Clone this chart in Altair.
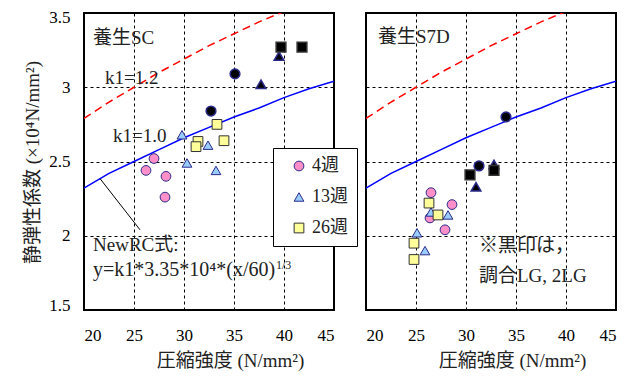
import altair as alt
import pandas as pd

FONT = "'Liberation Serif', 'Noto Sans CJK JP', serif"

weeks = ["4週", "13週", "26週"]
shapes = ["circle", "triangle-up", "square"]
fill_colors = ["#FF8FC8", "#99CCFF", "#FFFF99"]
edge_colors = ["#2A2A8A", "#2A2A8A", "#333333"]
black_edge_colors = ["#FF8FC8", "#66E0FF", "#FFFF66"]

# ---- 養生SC (left panel) ----
sc_4w_x = [27.0, 26.2, 28.2, 28.1]
sc_4w_y = [2.52, 2.44, 2.40, 2.26]
sc_4w_black_x = [35.1, 32.7]
sc_4w_black_y = [3.09, 2.84]
sc_13w_x = [29.8, 32.4, 30.3, 33.2]
sc_13w_y = [2.68, 2.61, 2.49, 2.44]
sc_13w_black_x = [37.7, 39.5]
sc_13w_black_y = [3.02, 3.21]
sc_26w_x = [33.3, 34.0, 31.4, 31.2]
sc_26w_y = [2.75, 2.64, 2.635, 2.60]
sc_26w_black_x = [39.7, 41.8]
sc_26w_black_y = [3.27, 3.27]

# ---- 養生S7D (right panel) ----
s7d_4w_x = [26.5, 28.6, 26.4, 27.9]
s7d_4w_y = [2.29, 2.21, 2.12, 2.04]
s7d_4w_black_x = [34.0, 31.3]
s7d_4w_black_y = [2.80, 2.47]
s7d_13w_x = [26.5, 28.2, 25.1, 25.9]
s7d_13w_y = [2.16, 2.14, 2.02, 1.90]
s7d_13w_black_x = [31.0, 32.8]
s7d_13w_black_y = [2.33, 2.48]
s7d_26w_x = [26.3, 27.2, 24.8, 24.8]
s7d_26w_y = [2.22, 2.14, 1.95, 1.84]
s7d_26w_black_x = [30.4, 32.8]
s7d_26w_black_y = [2.41, 2.44]

# ---- NewRC curves (k1=1.0 and k1=1.2) ----
curve_x = [20, 22.5, 25, 27.5, 30, 32.5, 35, 37.5, 40, 42.5, 45]
k10_y = [2.32, 2.42, 2.50, 2.58, 2.66, 2.73, 2.80, 2.86, 2.93, 2.99, 3.04]
k12_y = [2.79, 2.90, 3.00, 3.10, 3.19, 3.28, 3.36, 3.44, 3.51, 3.59, 3.65]

# leader line from the curve to the formula label
leader_x = [21.6, 25.6]
leader_y = [2.385, 2.04]

x_ticks = [20, 25, 30, 35, 40, 45]
y_ticks = [1.5, 2.0, 2.5, 3.0, 3.5]


def points_df(groups):
    rows = []
    for week, (xs_, ys_, bxs, bys) in zip(weeks, groups):
        for a, b in zip(xs_, ys_):
            rows.append({"week": week, "wk": week, "x": a, "y": b, "black": False})
        for a, b in zip(bxs, bys):
            rows.append({"week": week, "wk": week, "x": a, "y": b, "black": True})
    return pd.DataFrame(rows)


sc_df = points_df([
    (sc_4w_x, sc_4w_y, sc_4w_black_x, sc_4w_black_y),
    (sc_13w_x, sc_13w_y, sc_13w_black_x, sc_13w_black_y),
    (sc_26w_x, sc_26w_y, sc_26w_black_x, sc_26w_black_y),
])
s7d_df = points_df([
    (s7d_4w_x, s7d_4w_y, s7d_4w_black_x, s7d_4w_black_y),
    (s7d_13w_x, s7d_13w_y, s7d_13w_black_x, s7d_13w_black_y),
    (s7d_26w_x, s7d_26w_y, s7d_26w_black_x, s7d_26w_black_y),
])

curve_df = pd.DataFrame({"x": curve_x, "k10": k10_y, "k12": k12_y})
leader_df = pd.DataFrame({"x": leader_x, "y": leader_y})

shape_scale = alt.Scale(domain=weeks, range=shapes)
fill_scale = alt.Scale(domain=weeks, range=fill_colors)
stroke_scale = alt.Scale(domain=weeks, range=edge_colors)
edge_scale = alt.Scale(domain=weeks, range=black_edge_colors)
xs = alt.Scale(domain=[20, 45], nice=False, zero=False)
ys = alt.Scale(domain=[1.5, 3.5], nice=False, zero=False)

AX = dict(grid=True, gridDash=[3, 3], gridColor="black", gridWidth=1,
          ticks=False, domain=False, labelFontSize=17, labelFont=FONT,
          labelColor="black", titleFont=FONT, titleFontSize=19,
          titleFontWeight="normal", titleColor="#222")


def panel(df, texts, show_y, legend):
    xenc = alt.X("x:Q", scale=xs, axis=alt.Axis(values=x_ticks, labelPadding=17,
                                                title="圧縮強度 (N/mm²)", titlePadding=8,
                                                titleX=146, titleAlign="center", **AX))
    if show_y:
        yaxis = alt.Axis(values=y_ticks, format="~g", labelPadding=14,
                         labelFlush=True, labelFlushOffset=4,
                         title="静弾性係数 (×10⁴N/mm²)", titleX=-52, titleY=149,
                         titleAlign="center", titleBaseline="middle", titleAngle=270, **AX)
    else:
        yaxis = alt.Axis(values=y_ticks, labels=False, title=None, **AX)
    yenc = alt.Y("y:Q", scale=ys, axis=yaxis)

    base_curve = alt.Chart(curve_df)
    red = base_curve.mark_line(color="#FF0000", strokeWidth=1.5, strokeDash=[8, 5], clip=True).encode(
        x=alt.X("x:Q", scale=xs), y=alt.Y("k12:Q", scale=ys))
    blue = base_curve.mark_line(color="#0000FF", strokeWidth=1.5, clip=True).encode(
        x=alt.X("x:Q", scale=xs), y=alt.Y("k10:Q", scale=ys))

    normal = alt.Chart(df[~df["black"]]).mark_point(
        filled=True, size=95, strokeWidth=1, opacity=1).encode(
        x=xenc, y=yenc,
        shape=alt.Shape("week:N", scale=shape_scale, legend=legend),
        fill=alt.Fill("week:N", scale=fill_scale, legend=legend),
        stroke=alt.Stroke("week:N", scale=stroke_scale, legend=legend),
    )
    blk = alt.Chart(df[df["black"]]).mark_point(
        filled=True, size=95, fill="black", strokeWidth=1.5, opacity=1).encode(
        x=alt.X("x:Q", scale=xs), y=alt.Y("y:Q", scale=ys),
        shape=alt.Shape("week:N", scale=shape_scale, legend=None),
        stroke=alt.Stroke("wk:N", scale=edge_scale, legend=None),
    )

    layers = [blue, red]
    if show_y:
        layers.append(alt.Chart(leader_df).mark_line(color="black", strokeWidth=1).encode(
            x=alt.X("x:Q", scale=xs), y=alt.Y("y:Q", scale=ys)))
    layers += [normal, blk]
    for tdf, fs in texts:
        layers.append(alt.Chart(tdf).mark_text(
            align="left", baseline="middle", font=FONT, fontSize=fs, color="#222").encode(
            x=alt.X("x:Q", scale=xs), y=alt.Y("y:Q", scale=ys), text="t:N"))
    return alt.layer(*layers).properties(width=250, height=297)


# annotation texts (positions in data units)
sc_text_x = [20.9, 22.1, 22.9, 20.9]
sc_text_y = [3.33, 3.06, 2.67, 1.94]
sc_text_t = ["養生SC", "k1=1.2", "k1=1.0", "NewRC式:"]
formula_x = [20.9]
formula_y = [1.77]
formula_t = ["y=k1*3.35*10⁴*(x/60)"]
sup_x = [39.2]
sup_y = [1.80]
sup_t = ["1/3"]
s7d_text_x = [21.2, 31.3, 31.3]
s7d_text_y = [3.34, 1.93, 1.73]
s7d_text_t = ["養生S7D", "※黒印は，", "調合LG, 2LG"]

sc_texts = [(pd.DataFrame({"x": sc_text_x, "y": sc_text_y, "t": sc_text_t}), 19),
            (pd.DataFrame({"x": formula_x, "y": formula_y, "t": formula_t}), 20),
            (pd.DataFrame({"x": sup_x, "y": sup_y, "t": sup_t}), 12)]
s7d_texts = [(pd.DataFrame({"x": s7d_text_x, "y": s7d_text_y, "t": s7d_text_t}), 19)]

legend = alt.Legend(title=None, orient="none", legendX=189, legendY=135,
                    fillColor="white", strokeColor="black", padding=9,
                    labelFontSize=18, labelFont=FONT, labelColor="#222",
                    symbolSize=95, symbolStrokeWidth=1,
                    rowPadding=13, labelOffset=4, symbolOffset=8)

left = panel(sc_df, sc_texts, True, legend)
right = panel(s7d_df, s7d_texts, False, None)

chart = alt.hconcat(left, right, spacing=30).properties(
    padding={"left": 14, "top": -1, "right": 5, "bottom": 5},
    background="white",
).configure_view(stroke="black", strokeWidth=2)

chart.save("out.html", embed_options={"renderer": "svg", "actions": False})
